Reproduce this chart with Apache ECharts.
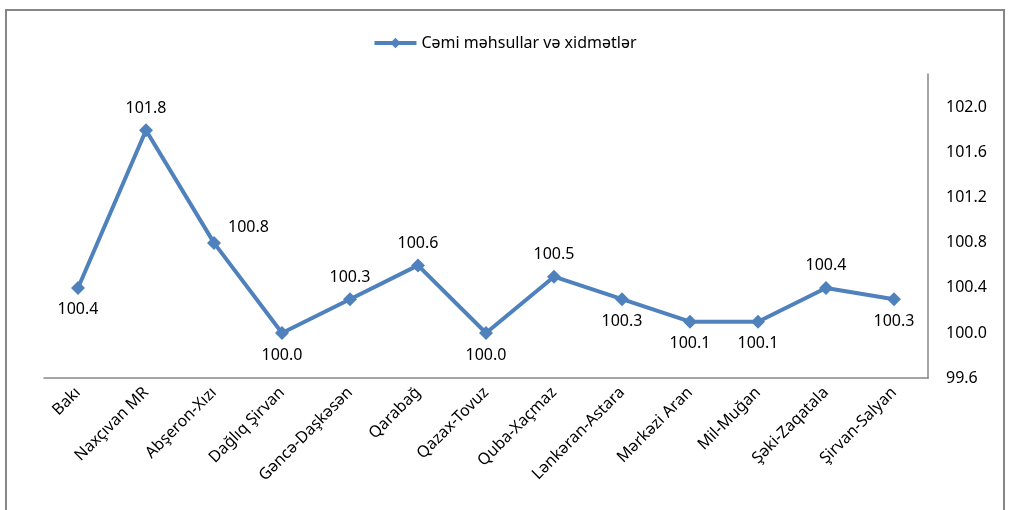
<!DOCTYPE html>
<html lang="az">
    <head>
        <meta charset="utf-8">
        <script src="https://cdn.jsdelivr.net/npm/echarts@6/dist/echarts.min.js"></script>
        <title>Cəmi məhsullar və xidmətlər</title>
        <style>
            html, body { margin: 0; padding: 0; background: #fff; }
            #chart { width: 1009px; height: 510px; }
        </style>
    </head>
    <body>
        <div id="chart"></div>
        <script>
            // data
            var regions = ['Bakı', 'Naxçıvan MR', 'Abşeron-Xızı', 'Dağlıq Şirvan', 'Gəncə-Daşkəsən', 'Qarabağ',
                'Qazax-Tovuz', 'Quba-Xaçmaz', 'Lənkəran-Astara', 'Mərkəzi Aran', 'Mil-Muğan', 'Şəki-Zaqatala', 'Şirvan-Salyan'];
            var values = [100.4, 101.8, 100.8, 100.0, 100.3, 100.6, 100.0, 100.5, 100.3, 100.1, 100.1, 100.4, 100.3];
            var seriesName = 'Cəmi məhsullar və xidmətlər';

            // where each value label sits (as in the original)
            var labelSide = ['bottom', 'top', 'right', 'bottom', 'top', 'top', 'bottom', 'top', 'bottom', 'bottom', 'bottom', 'top', 'bottom'];

            var font = 'Noto Sans';
            var blue = '#4F81BD';

            var pts = values.map(function(v, i) {
                var lb = { position: labelSide[i] };
                if (labelSide[i] == 'right') lb.offset = [0, -15];
                return { value: v, label: lb };
            });

            var chart = echarts.init(document.getElementById('chart'));
            chart.setOption({
                animation: false,
                textStyle: { fontFamily: font },
                graphic: [{
                    type: 'rect',
                    shape: { x: 6, y: 10, width: 998, height: 520 },
                    style: { fill: 'none', stroke: '#868686', lineWidth: 2 }
                }],
                legend: {
                    top: 30,
                    left: 'center',
                    itemWidth: 42,
                    itemHeight: 13,
                    lineStyle: { width: 4 },
                    textStyle: { fontSize: 16, color: '#000', fontFamily: font },
                    data: [seriesName]
                },
                grid: { left: 44, right: 81, top: 74, bottom: 132 },
                xAxis: {
                    type: 'category',
                    data: regions,
                    boundaryGap: true,
                    axisLine: { lineStyle: { color: '#868686', width: 1.5 } },
                    axisTick: { show: false },
                    axisLabel: { rotate: 45, fontSize: 16, color: '#000', margin: 12, interval: 0 }
                },
                yAxis: {
                    type: 'value',
                    position: 'right',
                    min: 99.6,
                    max: 102.3,
                    interval: 0.4,
                    splitLine: { show: false },
                    axisLine: { show: true, lineStyle: { color: '#868686', width: 1.5 } },
                    axisTick: { show: false },
                    axisLabel: {
                        showMaxLabel: false,
                        fontSize: 16,
                        color: '#000',
                        margin: 18,
                        formatter: function(v) { return v.toFixed(1); }
                    }
                },
                series: [{
                    name: seriesName,
                    type: 'line',
                    data: pts,
                    symbol: 'diamond',
                    symbolSize: 14,
                    lineStyle: { color: blue, width: 4 },
                    itemStyle: { color: blue },
                    label: {
                        show: true,
                        fontSize: 16,
                        color: '#000',
                        distance: 7,
                        formatter: function(p) { return p.value.toFixed(1); }
                    }
                }]
            });
        </script>
    </body>
</html>
